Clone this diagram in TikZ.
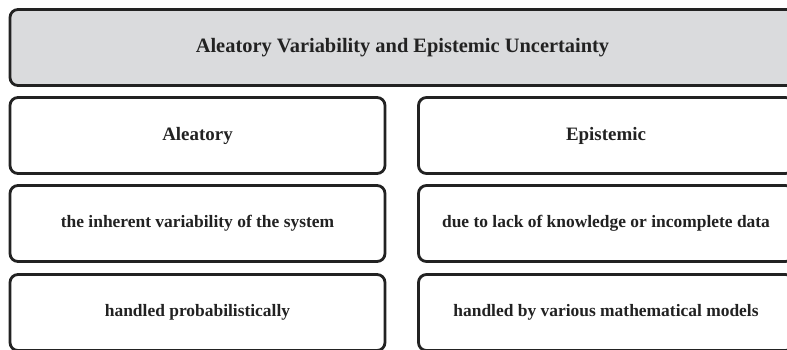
\documentclass[tikz,border=0pt]{standalone}
\usepackage{fontspec}
\setmainfont{Liberation Serif}
\begin{document}
\begin{tikzpicture}[x=1bp,y=-1bp,
  box/.style={draw=boxline,line width=2.8bp,rounded corners=8bp,fill=white,
    inner sep=0pt,minimum height=76bp,text=boxline,font=\bfseries\fontsize{17.5}{20}\selectfont},
  colbox/.style={box,minimum width=375bp},
  headbox/.style={box,minimum width=375bp,font=\bfseries\fontsize{19}{22}\selectfont},
  titlebox/.style={box,fill=titlegray,minimum width=785bp,font=\bfseries\fontsize{20.5}{24}\selectfont}]
\definecolor{boxline}{HTML}{222222}
\definecolor{titlegray}{HTML}{DADBDD}
\useasboundingbox (0,0) rectangle (787,349);
\clip (0,0) rectangle (787,349);
\node[titlebox] (title) at (402.5,47.5) {Aleatory Variability and Epistemic Uncertainty};
\node[headbox] (ale) at (197.5,135.5) {Aleatory};
\node[headbox] (epi) at (606,135.5) {Epistemic};
\node[colbox] (aledef) at (197.5,223.5) {the inherent variability of the system};
\node[colbox] (epidef) at (606,223.5) {due to lack of knowledge or incomplete data};
\node[colbox] (alehand) at (197.5,312.5) {handled probabilistically};
\node[colbox] (epihand) at (606,312.5) {handled by various mathematical models};
\end{tikzpicture}
\end{document}
